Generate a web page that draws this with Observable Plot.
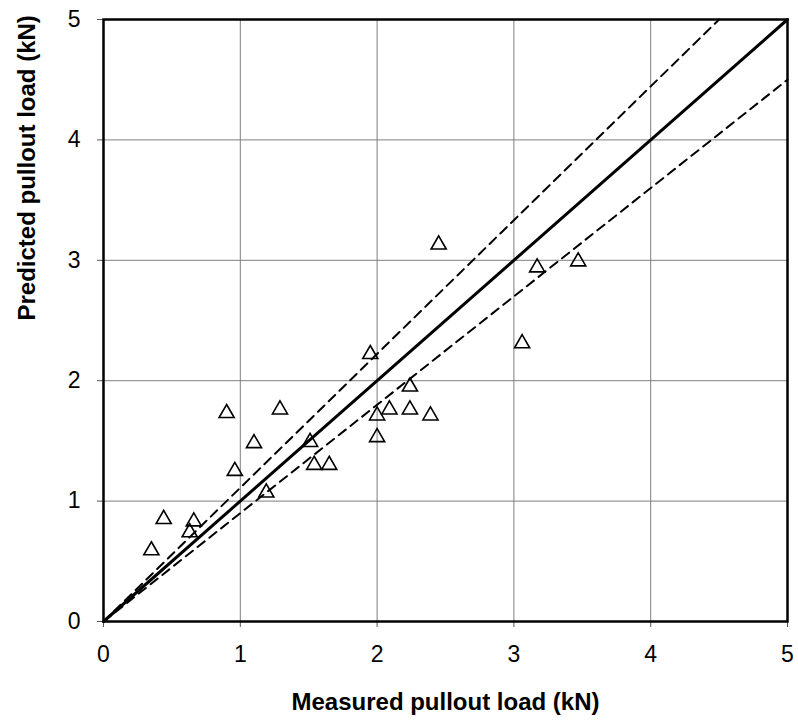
<!DOCTYPE html>
<html><head><meta charset="utf-8">
<script src="https://cdn.jsdelivr.net/npm/d3@7"></script>
<script src="https://cdn.jsdelivr.net/npm/@observablehq/plot@0.6"></script>
<style>body{margin:0;background:#fff;}</style>
</head><body><div id="chart"></div>
<script>
const measured  = [0.35, 0.44, 0.66, 0.63, 0.96, 0.90, 1.10, 1.29, 1.19, 1.51, 1.54, 1.65, 1.95, 2.24, 2.09, 2.24, 2.39, 2.00, 2.00, 2.45, 3.17, 3.47, 3.06];
const predicted = [0.59, 0.85, 0.83, 0.74, 1.25, 1.73, 1.48, 1.76, 1.07, 1.49, 1.30, 1.30, 2.22, 1.95, 1.76, 1.76, 1.71, 1.71, 1.53, 3.13, 2.94, 2.99, 2.31];
const tickValues = [0, 1, 2, 3, 4, 5];
const equalityX = [0, 5], equalityY = [0, 5];
const upperX = [0, 4.5], upperY = [0, 5];
const lowerX = [0, 5], lowerY = [0, 4.5];
const xTitle = "Measured pullout load (kN)";
const yTitle = "Predicted pullout load (kN)";

const points = measured.map((m, i) => ({x: m, y: predicted[i]}));
const toLine = (xs, ys) => xs.map((x, i) => ({x, y: ys[i]}));
const fmt = d3.format("d");

const chart = Plot.plot({
  width: 798, height: 726,
  marginLeft: 103, marginRight: 11, marginTop: 19, marginBottom: 105,
  style: {fontFamily: "'Liberation Sans', Arial, sans-serif", fontSize: "23px", background: "#fff", color: "#000"},
  x: {domain: [0, 5], label: null},
  y: {domain: [0, 5], label: null},
  marks: [
    Plot.gridX(tickValues.slice(1, -1), {stroke: "#7f7f7f", strokeOpacity: 1, strokeWidth: 1}),
    Plot.gridY(tickValues.slice(1, -1), {stroke: "#7f7f7f", strokeOpacity: 1, strokeWidth: 1}),
    Plot.axisX(tickValues, {tickSize: 6, tickPadding: 18, tickFormat: fmt, label: null, fontSize: 23, stroke: "#555"}),
    Plot.axisY(tickValues, {tickSize: 6, tickPadding: 17, tickFormat: fmt, label: null, fontSize: 23, stroke: "#555"}),
    Plot.line(toLine(upperX, upperY), {x: "x", y: "y", stroke: "black", strokeWidth: 2, strokeDasharray: "9,6"}),
    Plot.line(toLine(lowerX, lowerY), {x: "x", y: "y", stroke: "black", strokeWidth: 2, strokeDasharray: "9,6"}),
    Plot.line(toLine(equalityX, equalityY), {x: "x", y: "y", stroke: "black", strokeWidth: 3}),
    Plot.dot(points, {x: "x", y: "y", symbol: "triangle", r: 5.6, stroke: "black", strokeWidth: 1.6, fill: "none"}),
    Plot.frame({stroke: "black", strokeWidth: 2.5}),
    Plot.text([xTitle], {frameAnchor: "bottom", dy: 88, fontWeight: "bold", fontSize: 24, fill: "black"}),
    Plot.text([yTitle], {frameAnchor: "left", dx: -76, rotate: -90, fontWeight: "bold", fontSize: 24, fill: "black"})
  ]
});
document.getElementById("chart").appendChild(chart);
</script>
</body></html>
